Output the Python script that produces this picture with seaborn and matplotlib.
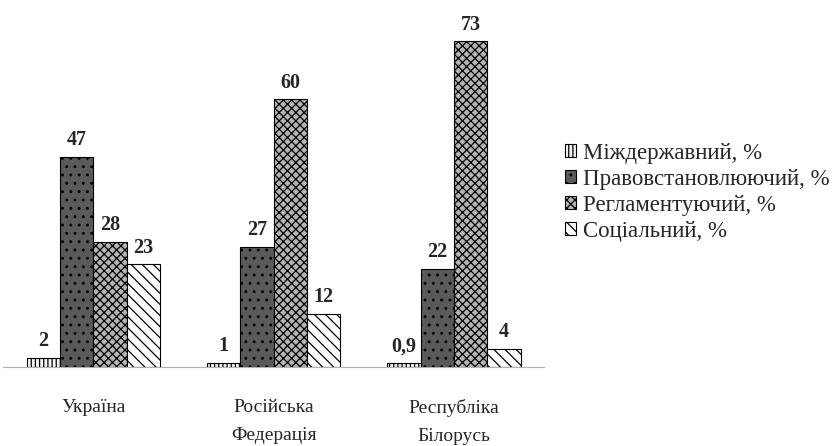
import seaborn as sns
import matplotlib.pyplot as plt
import pandas as pd

# data
countries = ["Україна", "Російська\nФедерація", "Республіка\nБілорусь"]
series = ["Міждержавний, %", "Правовстановлюючий, %", "Регламентуючий, %", "Соціальний, %"]
mizhderzh = [2, 1, 0.9]
pravovst = [47, 27, 22]
reglament = [28, 60, 73]
sotsial = [23, 12, 4]
value_labels = [["2", "1", "0,9"], ["47", "27", "22"], ["28", "60", "73"], ["23", "12", "4"]]

rows = []
for name, vals in zip(series, [mizhderzh, pravovst, reglament, sotsial]):
    for c, v in zip(countries, vals):
        rows.append({"country": c, "series": name, "value": v})
df = pd.DataFrame(rows)

sns.set_style("white")
plt.rcParams["font.family"] = ["Liberation Serif", "DejaVu Serif"]
plt.rcParams["hatch.linewidth"] = 0.9

faces = ["#f2f2f2", "#5a5a5a", "#b4b4b4", "#ffffff"]
hatches = ["||||", "..", "xxxx", "\\\\\\"]
hatch_cols = ["#333333", "#dddddd", "#eeeeee", "#777777"]

fig = plt.figure(figsize=(8.32, 4.46), dpi=100)
ax = fig.add_axes([0.004, 0.177, 0.65, 0.80])
sns.barplot(data=df, x="country", y="value", hue="series", palette=faces,
            width=0.74, edgecolor="black", linewidth=0.8, ax=ax, legend=True)

for i, cont in enumerate(ax.containers):
    for p in cont.patches:
        p.set_hatch(hatches[i])
        p._hatch_color = plt.matplotlib.colors.to_rgba(hatch_cols[i])
        p.set_edgecolor("black")
    ax.bar_label(cont, labels=value_labels[i], padding=5, fontsize=14.5, fontweight="bold")

ax.set_ylim(0, 80)
ax.set_xlim(-0.5, 2.5)
ax.set_yticks([])
ax.set_xlabel("")
ax.set_ylabel("")
for s in ["top", "right", "left"]:
    ax.spines[s].set_visible(False)
ax.spines["bottom"].set_color("#b0b0b0")
ax.tick_params(axis="x", length=0, pad=23, labelsize=14)
for t in ax.get_xticklabels():
    t.set_linespacing(1.85)
ax.set_xticks([0.5, 1.5], minor=True)
ax.tick_params(axis="x", which="minor", length=3, color="#b0b0b0")

handles, labels = ax.get_legend_handles_labels()
for i, h in enumerate(handles):
    h.set_hatch(hatches[i])
    h._hatch_color = plt.matplotlib.colors.to_rgba(hatch_cols[i])
    h.set_edgecolor("black")
ax.legend(handles, labels, loc="center left", bbox_to_anchor=(1.0, 0.49),
          frameon=False, fontsize=16.5, handlelength=0.5, handleheight=0.5,
          handletextpad=0.3, labelspacing=0.22)

fig.savefig("out.png", dpi=100)
